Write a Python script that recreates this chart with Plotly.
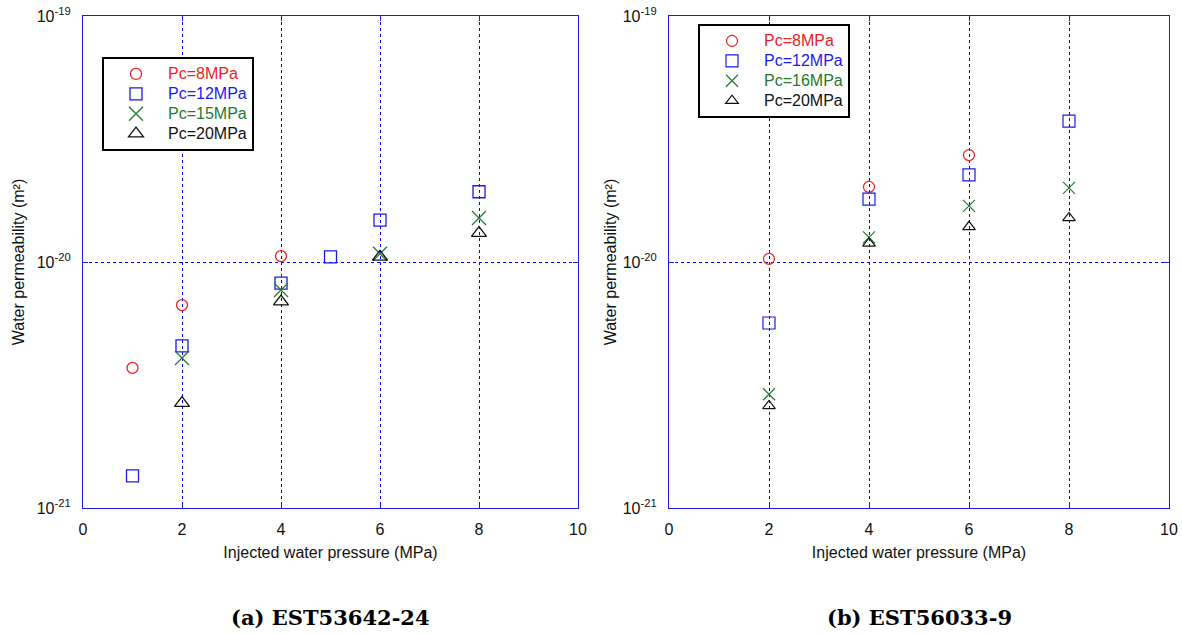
import plotly.graph_objects as go

# ---------------- data ----------------
# (a) EST53642-24
a_x_8 = [1, 2, 4]
a_y_8 = [3.71e-21, 6.68e-21, 1.057e-20]
a_x_12 = [1, 2, 4, 5, 6, 8]
a_y_12 = [1.35e-21, 4.56e-21, 8.2e-21, 1.05e-20, 1.48e-20, 1.93e-20]
a_x_15 = [2, 4, 6, 8]
a_y_15 = [4.07e-21, 7.7e-21, 1.08e-20, 1.51e-20]
a_x_20 = [2, 4, 6, 8]
a_y_20 = [2.67e-21, 6.9e-21, 1.05e-20, 1.31e-20]

# (b) EST56033-9
b_x_8 = [2, 4, 6]
b_y_8 = [1.03e-20, 2.02e-20, 2.72e-20]
b_x_12 = [2, 4, 6, 8]
b_y_12 = [5.65e-21, 1.8e-20, 2.26e-20, 3.74e-20]
b_x_16 = [2, 4, 6, 8]
b_y_16 = [2.9e-21, 1.26e-20, 1.69e-20, 2.0e-20]
b_x_20 = [2, 4, 6, 8]
b_y_20 = [2.6e-21, 1.19e-20, 1.39e-20, 1.51e-20]

a_names = ["Pc=8MPa", "Pc=12MPa", "Pc=15MPa", "Pc=20MPa"]
b_names = ["Pc=8MPa", "Pc=12MPa", "Pc=16MPa", "Pc=20MPa"]

x_ticks = [0, 2, 4, 6, 8, 10]
y_tickvals = [1e-21, 1e-20, 1e-19]
y_ticktext = ["10<sup>-21</sup>", "10<sup>-20</sup>", "10<sup>-19</sup>"]

x_title = "Injected water pressure (MPa)"
y_title = "Water permeability (m²)"
captions = ["(a) EST53642-24", "(b) EST56033-9"]

# ---------------- styles ----------------
RED = "#ee2222"
BLUE = "#1a1aee"
GREEN = "#237a2e"
BLACK = "#111111"
AXIS_BLUE = "#1a1ae6"
GRID_BLUE = "#0000ff"
FONT = "Liberation Sans, Arial, sans-serif"

series_style = [
    dict(symbol="circle-open", color=RED),
    dict(symbol="square-open", color=BLUE),
    dict(symbol="x-thin-open", color=GREEN),
    dict(symbol="triangle-up-open", color=BLACK),
]

fig = go.Figure()

a_sets = [(a_x_8, a_y_8), (a_x_12, a_y_12), (a_x_15, a_y_15), (a_x_20, a_y_20)]
b_sets = [(b_x_8, b_y_8), (b_x_12, b_y_12), (b_x_16, b_y_16), (b_x_20, b_y_20)]
a_sizes = [11, 12, 14, 13]
b_sizes = [11, 12, 12, 11]


def legend_name(text, color):
    return f"<span style='color:{color};font-size:16px'>{text}</span>"


for i, (xs, ys) in enumerate(a_sets):
    st = series_style[i]
    fig.add_trace(go.Scatter(
        x=xs, y=ys, mode="markers", xaxis="x", yaxis="y",
        name=legend_name(a_names[i], st["color"]),
        legend="legend",
        marker=dict(symbol=st["symbol"], size=a_sizes[i], color=st["color"],
                    line=dict(width=1.3, color=st["color"])),
    ))

for i, (xs, ys) in enumerate(b_sets):
    st = series_style[i]
    fig.add_trace(go.Scatter(
        x=xs, y=ys, mode="markers", xaxis="x2", yaxis="y2",
        name=legend_name(b_names[i], st["color"]),
        legend="legend2",
        marker=dict(symbol=st["symbol"], size=b_sizes[i], color=st["color"],
                    line=dict(width=1.2, color=st["color"])),
    ))

W, H = 1182, 634
y_dom = [1 - 508 / H, 1 - 16 / H]
TXT = "#111111"


def xaxis(domain, anchor):
    return dict(
        domain=domain, anchor=anchor, range=[0, 10], tickvals=x_ticks,
        showline=True, linecolor=AXIS_BLUE, linewidth=1.3, mirror="ticks",
        ticks="inside", ticklen=5, tickcolor=AXIS_BLUE,
        showgrid=True, gridcolor=GRID_BLUE, griddash="dot", gridwidth=1.2,
        zeroline=False, ticklabelstandoff=7, automargin=False,
        tickfont=dict(family=FONT, size=16, color=TXT),
        title=dict(text=x_title, font=dict(family=FONT, size=16, color=TXT), standoff=9),
    )


def yaxis(anchor, standoff):
    return dict(
        domain=y_dom, anchor=anchor, type="log", range=[-21, -19],
        tickvals=y_tickvals, ticktext=y_ticktext,
        showline=True, linecolor=AXIS_BLUE, linewidth=1.3, mirror="ticks",
        ticks="inside", ticklen=5, tickcolor=AXIS_BLUE,
        showgrid=True, gridcolor=GRID_BLUE, griddash="dot", gridwidth=1.2,
        zeroline=False, ticklabelstandoff=8, automargin=False,
        tickfont=dict(family=FONT, size=16, color=TXT),
        title=dict(text=y_title, font=dict(family=FONT, size=16, color=TXT), standoff=standoff),
    )


legend_common = dict(
    bgcolor="white", bordercolor="black", borderwidth=2,
    font=dict(family=FONT, size=13), xanchor="left", yanchor="top",
    tracegroupgap=0, itemsizing="trace", itemwidth=54,
)

fig.update_layout(
    width=W, height=H,
    margin=dict(l=0, r=0, t=0, b=0, autoexpand=False),
    paper_bgcolor="white", plot_bgcolor="white",
    xaxis=xaxis([83 / W, 578 / W], "y"),
    yaxis=yaxis("x", 8),
    xaxis2=xaxis([669 / W, 1169 / W], "y2"),
    yaxis2=yaxis("x2", 2),
    legend=dict(x=102 / W, y=1 - 57 / H, **legend_common),
    legend2=dict(x=698 / W, y=1 - 24 / H, **legend_common),
    showlegend=True,
)

for cx, txt in zip([(83 + 578) / 2 / W, (669 + 1169) / 2 / W], captions):
    fig.add_annotation(
        x=cx, y=1 - 617 / H, xref="paper", yref="paper",
        text=f"<b>{txt}</b>", showarrow=False, xanchor="center", yanchor="middle",
        font=dict(family="DejaVu Serif, serif", size=21, color="black"),
    )

fig.write_html(
    "out.html",
    config={"displayModeBar": False},
    post_script="document.body.style.margin='0px';document.body.style.overflow='hidden';",
)
